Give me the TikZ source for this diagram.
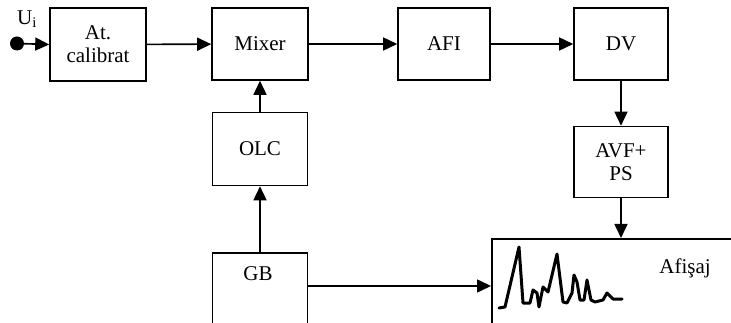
\documentclass[tikz,border=0pt]{standalone}
\usepackage{fontspec}
\setmainfont{Liberation Serif}
\usetikzlibrary{arrows.meta,calc}
\tikzset{
	blok/.style={draw, line width=1.6pt, align=center, inner sep=0pt, font=\fontsize{21}{23}\selectfont},
	scris/.style={inner sep=0pt, font=\fontsize{21}{23}\selectfont},
	sag/.style={line width=1.6pt, -{Triangle[length=14pt,width=13pt]}},
}
\begin{document}
\begin{tikzpicture}[x=1pt, y=-1pt]
			\useasboundingbox (0,0) rectangle (731,323);
			\clip (0,0) rectangle (731,323);
			\node[circle, fill, inner sep=0pt, minimum size=14pt] (ui) at (17,43.5) {};
			\node[scris] (uitxt) at (27,19) {U\textsubscript{i}};
			\node[blok, minimum width=96pt, minimum height=73pt] (atc) at (98,44.5) {At.\\calibrat};
			\node[blok, minimum width=96pt, minimum height=72pt] (mix) at (260,44) {Mixer};
			\node[blok, minimum width=92pt, minimum height=72pt] (afi) at (444,44) {AFI};
			\node[blok, minimum width=94pt, minimum height=72pt] (dv) at (621,44) {DV};
			\node[blok, minimum width=95pt, minimum height=73pt] (olc) at (260,149) {OLC};
			\node[blok, minimum width=94pt, minimum height=71pt] (avf) at (621,162) {AVF+\\PS};
			\node[blok, minimum width=95pt, minimum height=100pt, anchor=north] (gb) at (260,252) {};
			\node[scris] (gbtxt) at (258,274) {GB};
			\node[blok, minimum width=260pt, minimum height=110pt, anchor=north west] (afis) at (491,238) {};
			\node[scris] (afistxt) at (685,268) {Afişaj};
			% legaturi
			\draw[sag] (ui) -- (atc.west);
			\draw[sag] (atc) -- (mix);
			\draw[sag] (mix) -- (afi);
			\draw[sag] (afi) -- (dv);
			\draw[sag] (dv) -- (avf);
			\draw[sag] (olc) -- (mix);
			\draw[sag] (gb.north) -- (olc.south);
			\draw[sag] (avf.south) -- (avf.south |- afis.north);
			\draw[sag] ([yshift=-34pt]gb.north east) coordinate (g1) -- (g1 -| afis.west);
			% spectru
			\draw[line width=3pt, line join=round, line cap=round] (499,308) -- (505,307) -- (519,247) -- (523,303) -- (530,303) -- (533,290) -- (537,293) -- (539,307) -- (543,287) -- (548,292) -- (557,254) -- (563,302) -- (567,303) -- (572,293) -- (574,275) -- (577,282) -- (580,300) -- (584,300) -- (587,280) -- (591,300) -- (595,302) -- (603,300) -- (607,293) -- (613,299) -- (622,299);
		\end{tikzpicture}
\end{document}
